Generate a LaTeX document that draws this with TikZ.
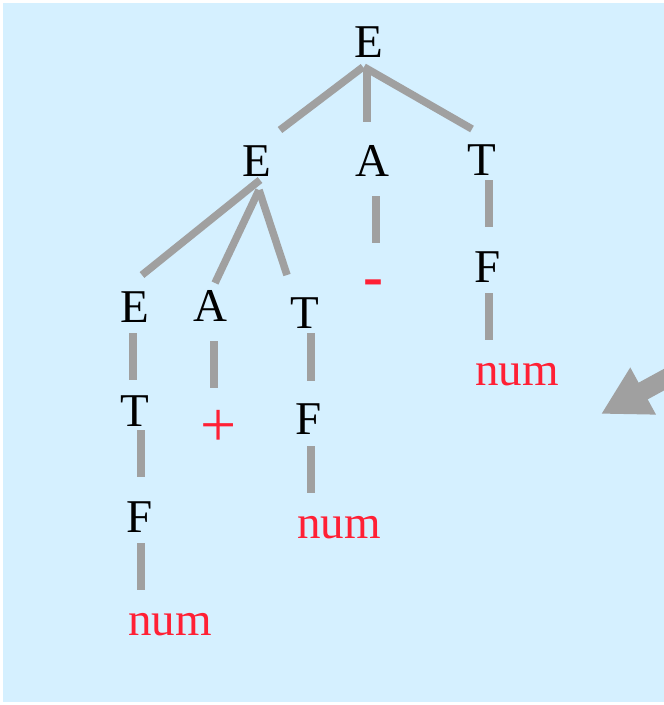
\documentclass[tikz,border=0pt]{standalone}
\usepackage{fontspec}
\setmainfont{Liberation Serif}
\usetikzlibrary{calc,arrows.meta}
\definecolor{panel}{HTML}{D5F0FF}
\definecolor{branch}{HTML}{A0A0A0}
\definecolor{token}{HTML}{FF2035}
\begin{document}
\begin{tikzpicture}[x=1pt,y=-1pt]
	\tikzstyle{Symbol} = [inner sep=0pt, anchor=base, font=\fontsize{47}{56}\selectfont, text=black]
	\tikzstyle{Token} = [Symbol, text=token]
	\tikzstyle{Branch} = [draw=branch, line width=7.5pt]
	\tikzstyle{arrow} = [draw=branch, line width=19pt, -{Triangle[length=48pt,width=50pt]}]
	
	\clip (0,0) rectangle (664,705);
	\fill [white] (0,0) rectangle (664,705);
	\fill [panel] (3,3) rectangle (664,702);
	% symbols of the tree
	\node (root) [Symbol] at (369,57) {E};
	\node (e2) [Symbol] at (257,176) {E};
	\node (a1) [Symbol] at (372,176) {A};
	\node (t1) [Symbol] at (482,175) {T};
	\node (minus) [Token, font=\fontsize{60}{70}\selectfont] at (373.5,296) {\textbf{-}};
	\node (f1) [Symbol] at (488,282) {F};
	\node (num1) [Token] at (517,385) {num};
	\node (e3) [Symbol] at (135,322) {E};
	\node (a2) [Symbol] at (210,321) {A};
	\node (t2) [Symbol] at (305,328) {T};
	\node (plus) [Token, font=\fontsize{64}{72}\selectfont] at (219,446) {+};
	\node (t3) [Symbol] at (135,426) {T};
	\node (f2) [Symbol] at (309,434) {F};
	\node (num2) [Token] at (339,538) {num};
	\node (f3) [Symbol] at (140,532) {F};
	\node (num3) [Token] at (170,635) {num};
	% branches
	\foreach \a/\sa/\b/\sb in {root/{-6,10}/e2/{23,-46}, root/{-2,13}/a1/{-5,-54}, root/{-5,10}/t1/{-10,-46},
		a1/{4,20}/minus/{2.5,-53}, t1/{7,5}/f1/{1,-55}, f1/{1,11}/num1/{-28,-45},
		e2/{3,4}/e3/{7,-47}, e2/{2,14}/a2/{5,-38}, e2/{2,14}/t2/{-18,-53},
		e3/{-2,11}/t3/{-2,-46}, a2/{4,20}/plus/{-5,-58}, t2/{6,5}/f2/{2,-53},
		t3/{6,4}/f3/{1,-55}, f2/{2,12}/num2/{-28,-45}, f3/{1,11}/num3/{-29,-45}}
		\draw [Branch] ($(\a.base)+(\sa)$) -- ($(\b.base)+(\sb)$);
	% arrow coming in from the right
	\coordinate (tail) at (689,366);
	\coordinate (tip) at (601,414);
	\draw [arrow] (tail) -- (tip);
\end{tikzpicture}
\end{document}
